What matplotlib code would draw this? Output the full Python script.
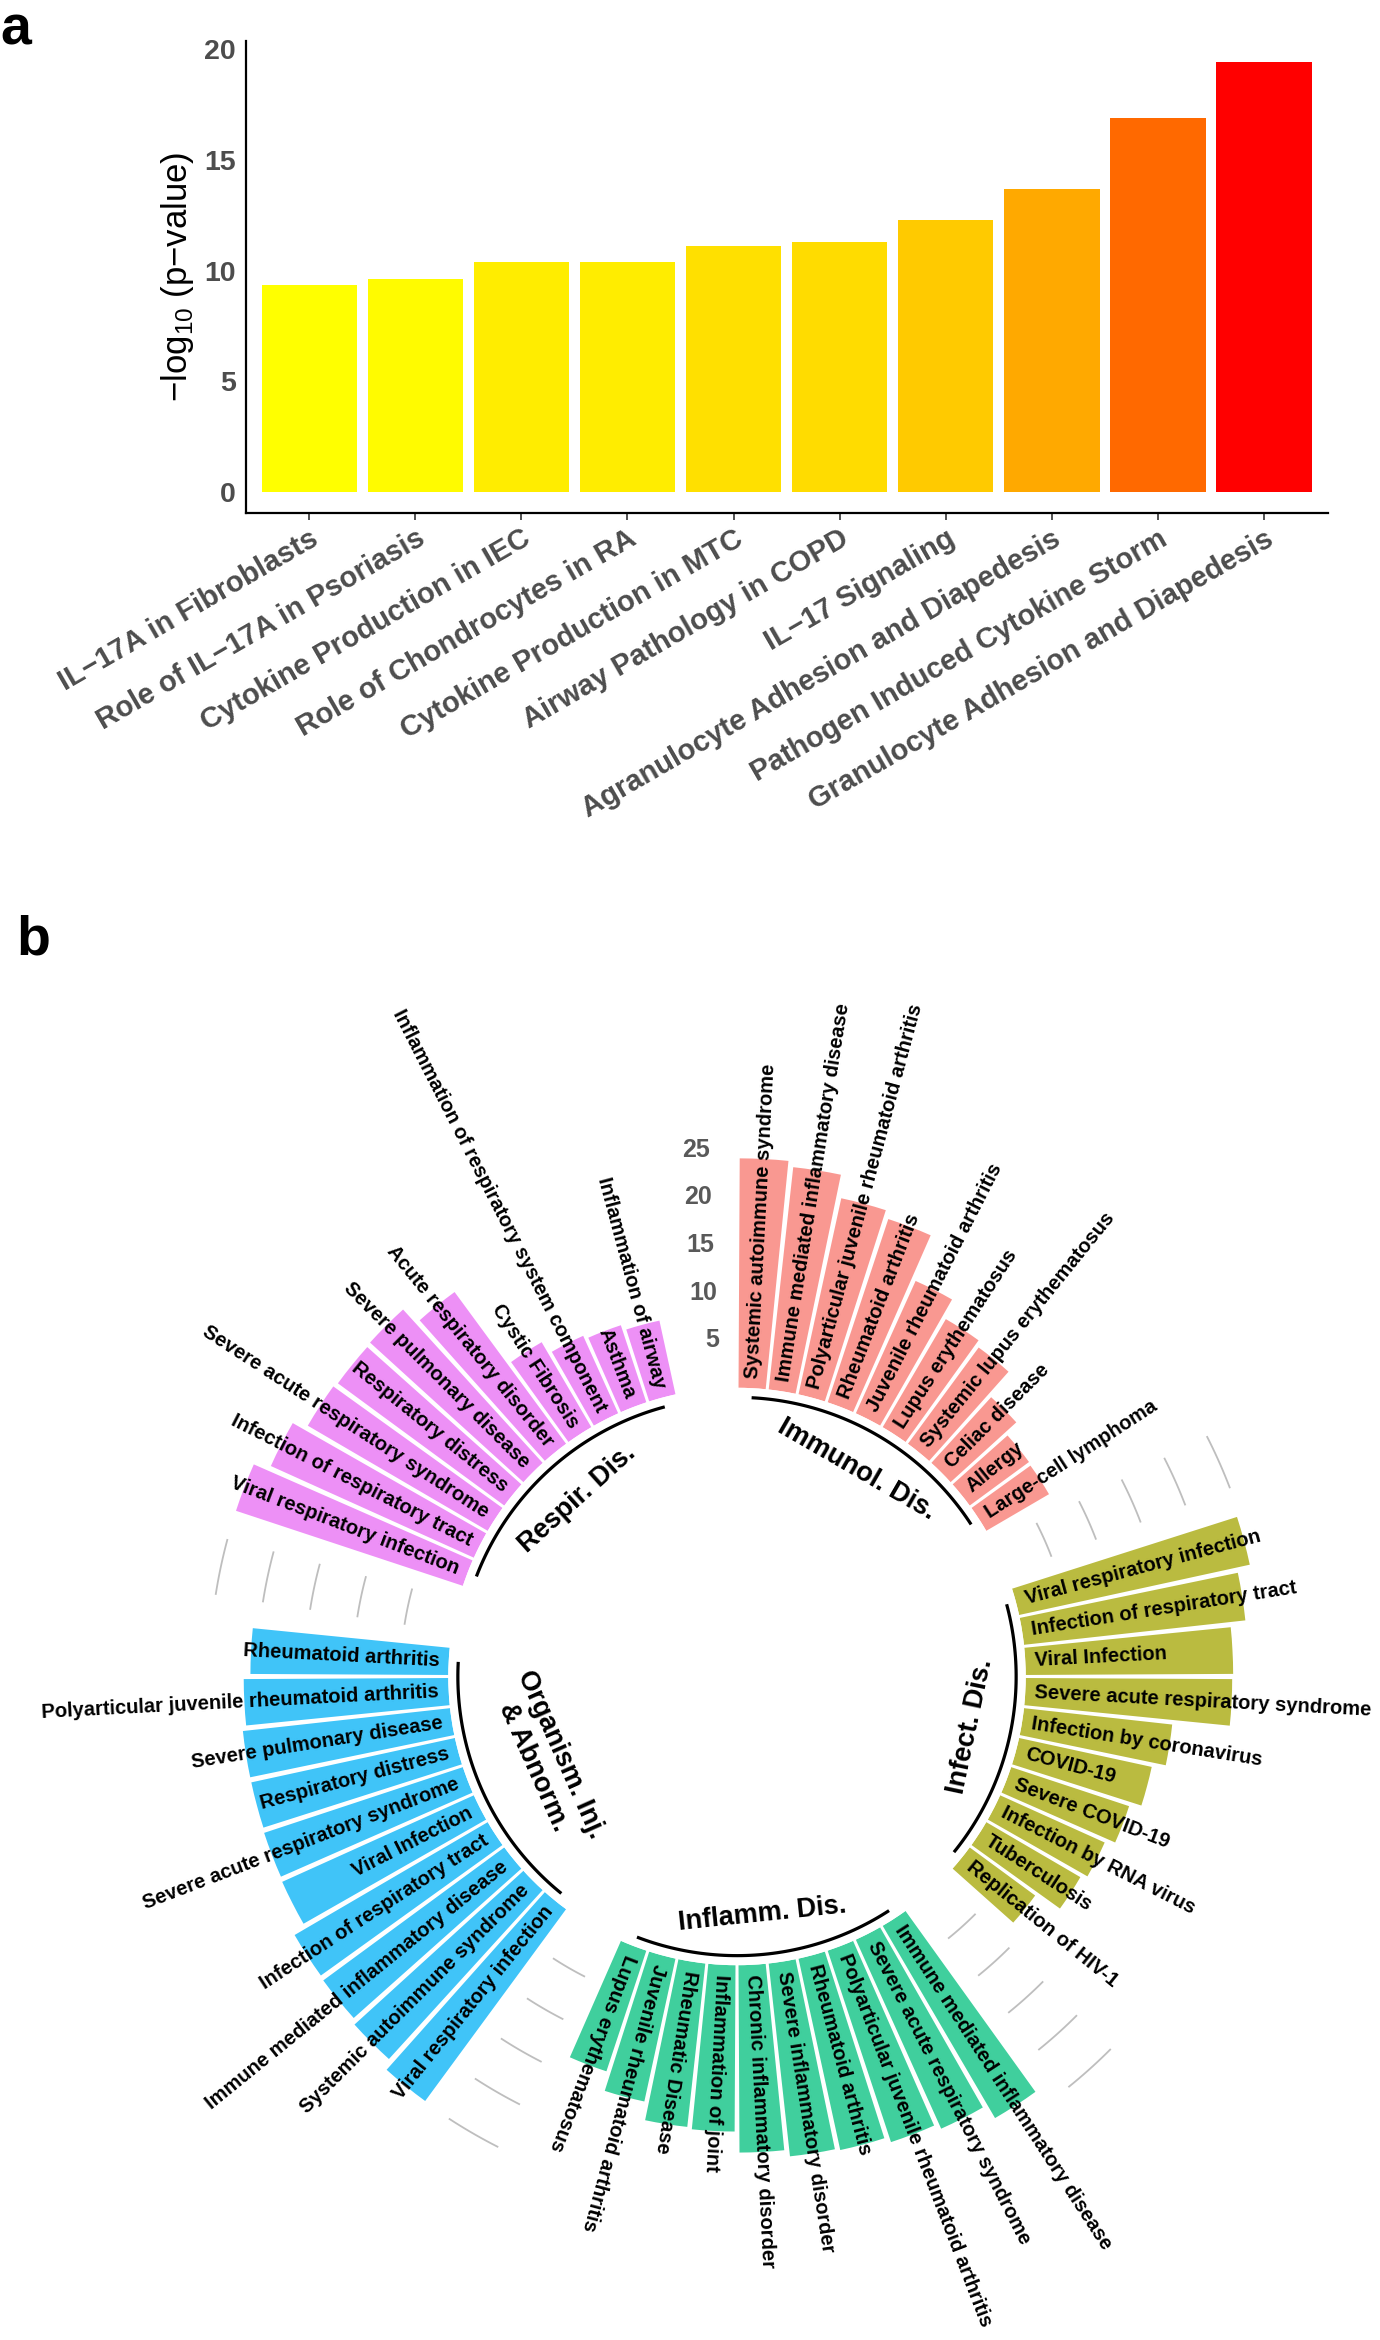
import numpy as np
import matplotlib
matplotlib.use('Agg')
import matplotlib.pyplot as plt
from matplotlib.colors import LinearSegmentedColormap, Normalize

plt.rcParams['font.family'] = ['Liberation Sans', 'DejaVu Sans']

# ---- panel a data: canonical pathways ----
pathways = ['IL−17A in Fibroblasts', 'Role of IL−17A in Psoriasis',
            'Cytokine Production in IEC', 'Role of Chondrocytes in RA',
            'Cytokine Production in MTC', 'Airway Pathology in COPD',
            'IL−17 Signaling', 'Agranulocyte Adhesion and Diapedesis',
            'Pathogen Induced Cytokine Storm', 'Granulocyte Adhesion and Diapedesis']
pathway_logp = [9.35, 9.6, 10.4, 10.4, 11.1, 11.3, 12.3, 13.7, 16.9, 19.4]

# ---- panel b data: diseases per category ----
groups = ['Immunol. Dis.', 'Infect. Dis.', 'Inflamm. Dis.',
          'Organism. Inj.\n& Abnorm.', 'Respir. Dis.']
group_colors = ['#F8766D', '#A3A500', '#00BF7D', '#00B0F6', '#E76BF3']

immunol_terms = ['Systemic autoimmune syndrome', 'Immune mediated inflammatory disease',
                 'Polyarticular juvenile rheumatoid arthritis', 'Rheumatoid arthritis',
                 'Juvenile rheumatoid arthritis', 'Lupus erythematosus',
                 'Systemic lupus erythematosus', 'Celiac disease', 'Allergy',
                 'Large-cell lymphoma']
immunol_vals = [24.0, 23.4, 21.0, 20.2, 15.2, 13.1, 12.5, 9.3, 7.7, 7.6]

infect_terms = ['Viral respiratory infection', 'Infection of respiratory tract',
                'Viral Infection', 'Severe acute respiratory syndrome',
                'Infection by coronavirus', 'COVID-19', 'Severe COVID-19',
                'Infection by RNA virus', 'Tuberculosis', 'Replication of HIV-1']
infect_vals = [24.7, 23.3, 21.7, 21.6, 15.6, 14.2, 13.0, 12.0, 11.4, 8.5]

inflamm_terms = ['Immune mediated inflammatory disease', 'Severe acute respiratory syndrome',
                 'Polyarticular juvenile rheumatoid arthritis', 'Rheumatoid arthritis',
                 'Severe inflammatory disorder', 'Chronic inflammatory disorder',
                 'Inflammation of joint', 'Rheumatic Disease',
                 'Juvenile rheumatoid arthritis', 'Lupus erythematosus']
inflamm_vals = [23.3, 21.7, 21.1, 20.5, 20.3, 19.6, 17.4, 17.2, 15.3, 13.3]

organism_terms = ['Viral respiratory infection', 'Systemic autoimmune syndrome',
                  'Immune mediated inflammatory disease', 'Infection of respiratory tract',
                  'Viral Infection', 'Severe acute respiratory syndrome',
                  'Respiratory distress', 'Severe pulmonary disease',
                  'Polyarticular juvenile rheumatoid arthritis', 'Rheumatoid arthritis']
organism_vals = [24.9, 23.9, 23.5, 23.4, 22.0, 21.9, 21.8, 21.8, 21.4, 20.7]

respir_terms = ['Viral respiratory infection', 'Infection of respiratory tract',
                'Severe acute respiratory syndrome', 'Respiratory distress',
                'Severe pulmonary disease', 'Acute respiratory disorder',
                'Cystic Fibrosis', 'Inflammation of respiratory system component',
                'Asthma', 'Inflammation of airway']
respir_vals = [25.0, 23.3, 21.8, 21.6, 21.7, 19.7, 10.3, 8.9, 8.5, 7.9]

axis_breaks = [5, 10, 15, 20, 25]

fig = plt.figure(figsize=(13.8, 23.4), dpi=100)

# ================= panel a =================
ax = fig.add_axes([0.178, 0.7806, 0.784, 0.2019])
cmap = LinearSegmentedColormap.from_list(
    'yr', [(0, '#FFFF00'), (0.3, '#FFC900'), (0.45, '#FFA500'),
           (0.75, '#FF6A00'), (1, '#FF0000')])
norm = Normalize(vmin=min(pathway_logp), vmax=max(pathway_logp))
x = np.arange(1, len(pathways) + 1)
ax.bar(x, pathway_logp, width=0.9, color=[cmap(norm(v)) for v in pathway_logp])
ax.set_xlim(0.4, 10.6)
ax.set_ylim(-0.97, 20.37)
for s in ['top', 'right']:
    ax.spines[s].set_visible(False)
for s in ['left', 'bottom']:
    ax.spines[s].set_linewidth(1.6)
    ax.spines[s].set_color('black')
ax.set_yticks([0, 5, 10, 15, 20])
ax.tick_params(axis='y', length=0, pad=7, labelsize=20.5, labelcolor='#4D4D4D')
ax.tick_params(axis='x', length=5, width=1.2, color='#333333', pad=3)
ax.set_xticks(x)
ax.set_xticklabels(pathways, rotation=30, ha='right', va='top',
                   rotation_mode='anchor', fontsize=21, fontweight='bold',
                   color='#4D4D4D')
for t in ax.get_yticklabels():
    t.set_fontweight('bold')
ax.set_ylabel('−log$_{\\mathregular{10}}$ (p−value)', fontsize=25)
ax.yaxis.set_label_coords(-0.046, 0.5)

fig.text(0.0, 0.9808, 'a', fontsize=40, fontweight='bold', va='baseline', ha='left')
fig.text(0.012, 0.5919, 'b', fontsize=40, fontweight='bold', va='baseline', ha='left')

# ================= panel b =================
pax = fig.add_axes([0.11703, 0.03761, 0.83406, 0.49188], projection='polar')
pax.set_theta_zero_location('N')
pax.set_theta_direction(-1)
pax.set_ylim(0, 30)
pax.set_rorigin(-30.2)
pax.axis('off')

n_slots = 60
step = 2 * np.pi / n_slots
all_terms = [immunol_terms, infect_terms, inflamm_terms, organism_terms, respir_terms]
all_vals = [immunol_vals, infect_vals, inflamm_vals, organism_vals, respir_vals]

for g, (terms, vals) in enumerate(zip(all_terms, all_vals)):
    ids = g * 12 + np.arange(1, len(vals) + 1)
    theta = (ids - 0.5) * step
    pax.bar(theta, vals, width=0.9 * step, bottom=0, color=group_colors[g],
            alpha=0.75, linewidth=0)
    for th, lab in zip(theta, terms):
        c = np.degrees(th)
        if c > 210:
            rot, ha = 270 - c, 'right'
        else:
            rot, ha = 90 - c, 'left'
        pax.text(th, 1.0, lab, rotation=rot, rotation_mode='anchor', ha=ha,
                 va='center', fontsize=14.5, fontweight='bold', clip_on=False)
    # group arc and name
    tt = np.linspace(theta[0], theta[-1], 60)
    pax.plot(tt, np.full_like(tt, -1.0), color='black', lw=2.3, clip_on=False,
             solid_capstyle='butt')
    mid = (theta[0] + theta[-1]) / 2
    rot = (-np.degrees(mid) + 90) % 180 - 90
    r_lab = -8.5 if '\n' in groups[g] else -5.2
    pax.text(mid, r_lab, groups[g], rotation=rot, rotation_mode='anchor',
             ha='center', va='center', fontsize=19.5, fontweight='bold',
             clip_on=False)
    # grey guide arcs in the gap after each group (not before the first one)
    if g < len(all_vals) - 1:
        gt = np.linspace((g * 12 + 10.5) * step, (g * 12 + 11.5) * step, 10)
        for b in axis_breaks:
            pax.plot(gt, np.full_like(gt, b), color='#BEBEBE', lw=1.3,
                     clip_on=False)

# value labels in the first gap
for b in axis_breaks:
    pax.text((n_slots - 0.5) * step, b, str(b), ha='right', va='center',
             fontsize=18, fontweight='bold', color='#595959', clip_on=False)

fig.savefig('out.png', dpi=100)
